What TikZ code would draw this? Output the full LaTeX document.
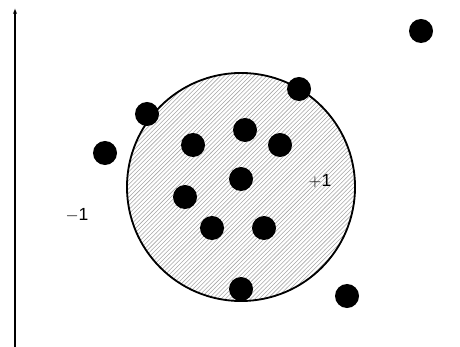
\documentclass[tikz,border=0pt]{standalone}
\usepackage{fontspec}
\setsansfont{Liberation Sans}
\usetikzlibrary{arrows.meta,patterns,positioning}

\begin{document}
\begin{tikzpicture}[
  x=0.025cm, y=-0.025cm,
  dot/.style={circle, fill=black, inner sep=0pt, minimum size=0.6cm},
  region/.style={circle, draw, line width=1.3pt, pattern=north east lines, pattern color=black!35, minimum size=5.7cm},
  lbl/.style={font=\sffamily\fontsize{12.5}{15}\selectfont}
]
  \useasboundingbox (0,0) rectangle (460,347);

  % Axis
  \coordinate (ybot) at (15,347);
  \coordinate (ytop) at (15,8);
  \draw[line width=1.2pt, -{Latex[length=4pt,width=3pt]}] (ybot) -- (ytop);

  % Positive region
  \node[region] (ball) at (241,187) {};

  % Points
  \foreach \x/\y [count=\n] in {421/31, 299/89, 147/114, 105/153, 193/145, 245/130, 280/145,
      241/179, 185/197, 212/228, 264/228, 241/289, 347/296} {
    \node[dot] (p\n) at (\x,\y) {};
  }

  % Class labels
  \node[lbl] (pos) at (320,181) {$+$1};
  \node[lbl] (neg) at (77,215) {$-$1};
\end{tikzpicture}
\end{document}
